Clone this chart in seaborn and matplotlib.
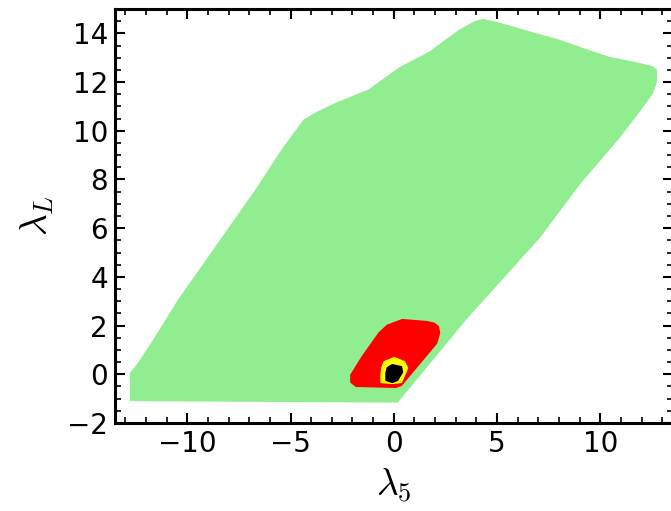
import matplotlib
matplotlib.use("Agg")
import matplotlib.pyplot as plt
import seaborn as sns
import numpy as np

# Region boundaries (lambda_5, lambda_L)
green_x = [-12.73, -12.73, -12.4, -11.7, -10.4, -6.66, -5.40, -4.33, -3.75, -2.74,
           -1.19, 0.27, 1.72, 3.17, 3.9, 4.33, 5.1, 8.0, 10.4, 11.7, 12.5, 12.7,
           12.7, 12.5, 11.9, 10.9, 9.0, 7.04, 3.5, 0.17]
green_y = [-1.06, 0.05, 0.38, 1.28, 3.05, 7.56, 9.20, 10.43, 10.72, 11.13,
           11.66, 12.56, 13.2, 14.1, 14.45, 14.55, 14.4, 13.7, 13.0, 12.78, 12.62, 12.48,
           12.0, 11.54, 10.84, 9.73, 7.85, 5.63, 2.3, -1.12]

red_x = [-0.31, 0.41, 1.6, 1.96, 2.15, 2.2, 2.06, 0.36, 0.1, -1.82, -2.06, -2.06, -1.52, -0.7]
red_y = [2.0, 2.23, 2.15, 2.08, 1.95, 1.69, 1.28, -0.44, -0.52, -0.48, -0.32, -0.03, 0.71, 1.69]

yellow_x = [-0.46, 0.02, 0.51, 0.65, 0.36, -0.07, -0.6, -0.6, -0.56]
yellow_y = [0.5, 0.67, 0.5, 0.26, -0.32, -0.36, -0.32, -0.03, 0.26]

black_x = [-0.3, -0.07, 0.36, 0.41, 0.17, -0.07, -0.36, -0.36]
black_y = [0.26, 0.38, 0.3, 0.09, -0.24, -0.32, -0.24, 0.05]

x_ticks = [-10, -5, 0, 5, 10]
y_ticks = [-2, 0, 2, 4, 6, 8, 10, 12, 14]

sns.set_style("ticks")
plt.rcParams['font.family'] = ['DejaVu Sans']
plt.rcParams['mathtext.fontset'] = 'cm'
plt.rcParams['text.color'] = 'black'
plt.rcParams['axes.labelcolor'] = 'black'
plt.rcParams['xtick.color'] = 'black'
plt.rcParams['ytick.color'] = 'black'

fig = plt.figure(figsize=(6.71, 5.11), dpi=100)
ax = fig.add_axes([115/671, 88/511, 557.5/671, 414/511])

regions = [(green_x, green_y, '#90EE90'), (red_x, red_y, '#FF0000'),
           (yellow_x, yellow_y, '#FFFF00'), (black_x, black_y, '#000000')]
for xs, ys, c in regions:
    ax.fill(xs, ys, color=c, edgecolor=c, linewidth=1.5, joinstyle='round')

ax.set_xlim(-13.5, 13.5)
ax.set_ylim(-2, 15)
ax.set_xticks(x_ticks)
ax.set_yticks(y_ticks)
ax.set_xticks(np.arange(-13, 14, 1), minor=True)
ax.set_yticks(np.arange(-2, 15.01, 0.5), minor=True)
ax.set_xticklabels([f"\u2212{abs(v)}" if v < 0 else str(v) for v in x_ticks])
ax.set_yticklabels([f"\u2212{abs(v)}" if v < 0 else str(v) for v in y_ticks])

ax.tick_params(which='both', direction='in', top=True, right=True, labelsize=20,
               color='black', labelcolor='black')
ax.tick_params(which='major', length=7, width=1.5, pad=5)
ax.tick_params(which='minor', length=4, width=1.2)
for s in ax.spines.values():
    s.set_linewidth(2.2)
    s.set_color('black')

ax.set_xlabel(r'$\lambda_5$', fontsize=27, labelpad=6, color='black')
ax.set_ylabel(r'$\lambda_L$', fontsize=27, labelpad=8, color='black')

fig.savefig("out.png", dpi=100)
